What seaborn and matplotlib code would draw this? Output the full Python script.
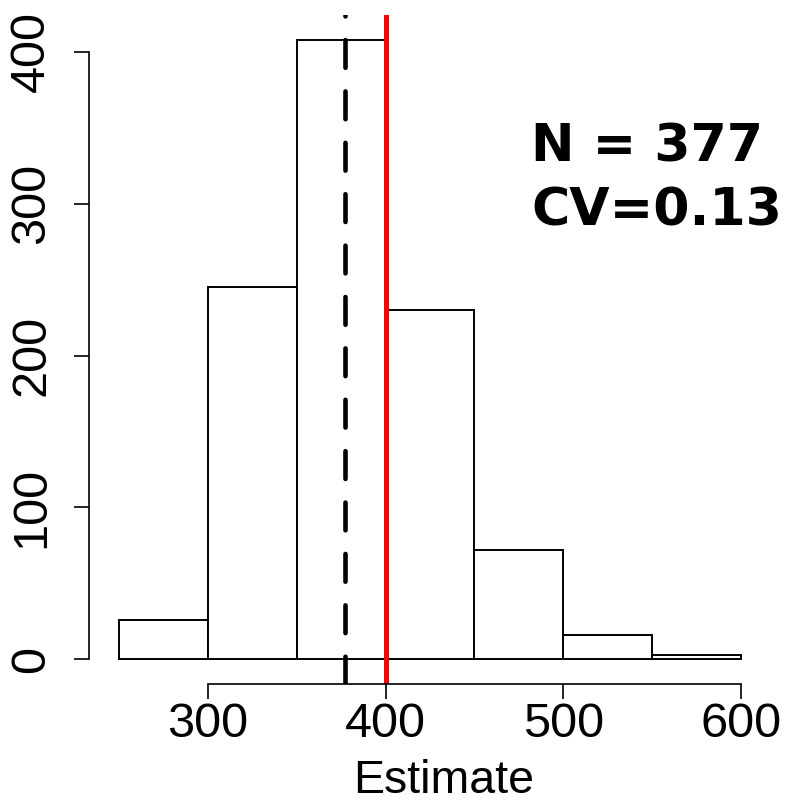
import matplotlib
matplotlib.use("Agg")
import matplotlib.pyplot as plt
import seaborn as sns
import numpy as np

# histogram bins and counts
bin_edges = [250, 300, 350, 400, 450, 500, 550, 600]
counts = [26, 245, 408, 230, 72, 16, 3]
mean_est = 377
true_val = 400
x_ticks = [300, 400, 500, 600]
y_ticks = [0, 100, 200, 300, 400]

sns.set_style("white")
plt.rcParams['font.family'] = ['Liberation Sans', 'DejaVu Sans']
plt.rcParams['lines.scale_dashes'] = False
plt.rcParams['text.color'] = 'black'
plt.rcParams['axes.labelcolor'] = 'black'
plt.rcParams['xtick.color'] = 'black'
plt.rcParams['ytick.color'] = 'black'

fig = plt.figure(figsize=(7.87, 8.07), dpi=100)
ax = fig.add_axes([89/787, 1 - 684/807, (771 - 89)/787, (684 - 15)/807])

centers = [(a + b) / 2 for a, b in zip(bin_edges[:-1], bin_edges[1:])]
sns.histplot(x=centers, weights=counts, bins=bin_edges, ax=ax,
             color="white", edgecolor="black", linewidth=1.4, alpha=1)

ax.axvline(mean_est, color="black", lw=3.3, dashes=(20, 17), dash_capstyle="round")
ax.axvline(true_val, color="red", lw=3.6)

ax.set_xlim(233, 617)
ax.set_ylim(-16.3, 424.3)

for s in ["top", "right"]:
    ax.spines[s].set_visible(False)
ax.spines["left"].set_bounds(0, 400)
ax.spines["bottom"].set_bounds(300, 600)
for s in ["left", "bottom"]:
    ax.spines[s].set_linewidth(1.2)
    ax.spines[s].set_color("black")

ax.set_xticks(x_ticks)
ax.set_yticks(y_ticks)
ax.tick_params(axis="both", direction="out", length=11, width=1.2, color="black",
               labelcolor="black", labelsize=35, left=True, bottom=True)
ax.tick_params(axis="x", pad=2)
ax.tick_params(axis="y", pad=14)
for lab in ax.get_yticklabels():
    lab.set_rotation(90)
    lab.set_va("center")

ax.set_ylabel("")
ax.set_xlabel("Estimate", fontsize=33.5, color="black")
ax.xaxis.set_label_coords(0.5205, -0.112)

fig.text(531/787, 1 - 162/807, "N = 377", fontsize=37.5, fontweight="bold",
         family="DejaVu Sans", color="black", ha="left", va="baseline")
fig.text(531/787, 1 - 225/807, "CV=0.13", fontsize=37.5, fontweight="bold",
         family="DejaVu Sans", color="black", ha="left", va="baseline")

fig.savefig("out.png", dpi=100)
